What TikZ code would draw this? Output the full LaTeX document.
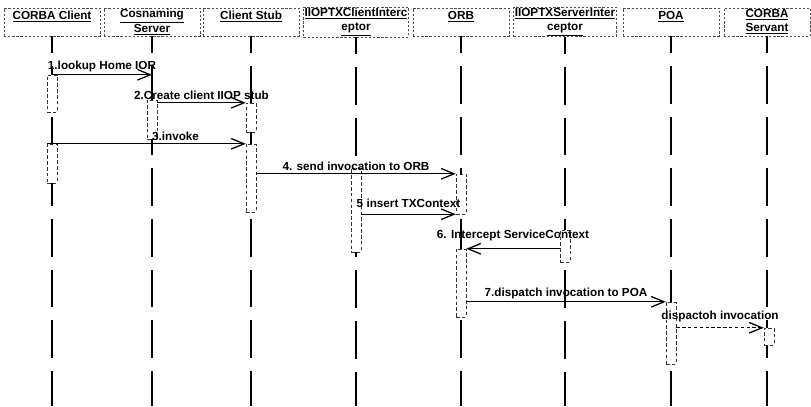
\documentclass[tikz,border=0pt]{standalone}
\usepackage{fontspec}
\setmainfont{Liberation Sans}
\usetikzlibrary{arrows.meta,positioning}
\newcommand{\myunit}{0.03cm}
\tikzset{
    headsty/.style={draw=black!70, dash pattern=on 2pt off 1.5pt, line width=0.4pt, rectangle, minimum width=96*\myunit, minimum height=28*\myunit, align=center, inner sep=1pt, font=\bfseries\fontsize{10}{12}\selectfont},
    lifesty/.style={line width=1pt, dash pattern=on 32.3pt off 11.1pt, dash phase=17.9pt},
    actsty/.style={draw=black!80, densely dashed, line width=0.4pt, fill=white, rectangle, minimum width=10*\myunit, inner sep=0pt},
    msgsty/.style={line width=1.1pt, -{Straight Barb[length=11pt,width=9pt,line width=1.1pt]}},
    retsty/.style={msgsty, densely dashed},
    lblsty/.style={midway, above=1pt, inner sep=1pt, font=\bfseries\fontsize{10}{12}\selectfont},
}

\begin{document}
\begin{tikzpicture}[x=\myunit, y=-\myunit]
  \useasboundingbox (0,0) rectangle (811,406);
  \coordinate (bot) at (0,406);

  % headers
  \node[headsty] (hcli) at (52,22)  {\underline{CORBA Client}\\\mbox{}};
  \node[headsty] (hcos) at (152,22) {\underline{Cosnaming}\\\underline{Server}};
  \node[headsty] (hstb) at (251,22) {\underline{Client Stub}\\\mbox{}};
  \node[headsty] (htxc) at (356,22) {\underline{IIOPTXClientInterc}\\\underline{eptor}};
  \node[headsty] (horb) at (461,22) {\underline{ORB}\\\mbox{}};
  \node[headsty] (htxs) at (565,22) {\underline{IIOPTXServerInter}\\\underline{ceptor}};
  \node[headsty] (hpoa) at (671,22) {\underline{POA}\\\mbox{}};
  \node[headsty, minimum width=86*\myunit] (hsrv) at (767,22) {\underline{CORBA}\\\underline{Servant}};

  % lifelines
  \foreach \h in {hcli,hcos,hstb,htxc,horb,htxs,hpoa,hsrv}
    \draw[lifesty] (\h.south) -- (\h.south |- bot);

  % activations
  \node[actsty, minimum height=37*\myunit] (acl1) at (52,93.5) {};
  \node[actsty, minimum height=39*\myunit] (acl2) at (52,163.5) {};
  \node[actsty, minimum height=39*\myunit] (acos) at (152,119.5) {};
  \node[actsty, minimum height=29*\myunit] (astb1) at (251,117.5) {};
  \node[actsty, minimum height=68*\myunit] (astb2) at (251,178) {};
  \node[actsty, minimum height=84*\myunit] (atxc) at (356,210) {};
  \node[actsty, minimum height=40*\myunit] (aorb1) at (461,194) {};
  \node[actsty, minimum height=68*\myunit] (aorb2) at (461,283) {};
  \node[actsty, minimum height=32*\myunit] (atxs) at (565,246) {};
  \node[actsty, minimum height=62*\myunit] (apoa) at (671,333) {};
  \node[actsty, minimum height=17*\myunit] (asrv) at (769,336.5) {};

  % messages
  \draw[msgsty] (acl1.north) -- (acl1.north -| hcos) node[lblsty]{1.lookup Home IOR};
  \draw[msgsty] (astb1.north west -| acos.east) -- (astb1.north west) node[lblsty]{2.Create client IIOP stub};
  \draw[msgsty] (acl2.north west) -- (astb2.north west) node[lblsty, pos=0.52, anchor=south west]{3.invoke};
  \draw[msgsty] (aorb1.north west -| astb2.east) -- (aorb1.north west) node[lblsty]{4. send invocation to ORB};
  \draw[msgsty] (aorb1.south west -| atxc.east) -- (aorb1.south west) node[lblsty, yshift=4*\myunit]{5 insert TXContext};
  \draw[msgsty] (aorb2.north east -| atxs.west) -- (aorb2.north east) node[lblsty, yshift=5*\myunit]{6. Intercept ServiceContext};
  \draw[msgsty] (apoa.north west -| aorb2.east) -- (apoa.north west) node[lblsty]{7.dispatch invocation to POA};
  \draw[retsty] (asrv.north west -| apoa.east) -- (asrv.north west) node[lblsty, yshift=3*\myunit]{dispactoh invocation};
\end{tikzpicture}
\end{document}
